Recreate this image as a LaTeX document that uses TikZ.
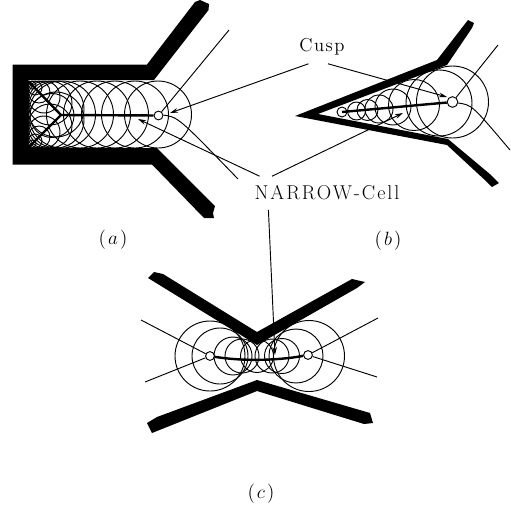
\documentclass[tikz,border=0pt]{standalone}
\usepackage{fontspec}
\usepackage{amsmath}
\usetikzlibrary{arrows.meta,positioning,calc}
\newfontfamily\cuspfont[LetterSpace=8]{Latin Modern Roman}
\newfontfamily\cellfont[LetterSpace=10]{Latin Modern Roman}

\begin{document}
\begin{tikzpicture}[
  x=0.75pt, y=-0.75pt,
  wall/.style={fill=black, draw=none},
  disk/.style={draw, line width=0.7pt},
  axis/.style={line width=1.8pt},
  endpt/.style={draw, circle, fill=white, inner sep=0pt, minimum size=6.6pt, line width=0.7pt},
  leader/.style={line width=0.7pt},
  arr/.style={-{Stealth[length=6pt,width=3.5pt]}, line width=0.7pt},
  callout/.style={inner sep=0pt, minimum height=24.8pt},
  caption/.style={font=\fontsize{14}{16}\selectfont, inner sep=0pt}
]
  \useasboundingbox (0,0) rectangle (511,512);

  % (a)
  \foreach \cx in {158,135,115,97,80,62}
    \draw[disk] (\cx,114.5) circle (33.5);
  \draw[disk] (52,115.5) circle (22);
  \foreach \rr in {28,22,16,11,7,4} {
    \draw[disk] (28+\rr,81+\rr) circle (\rr);
    \draw[disk] (28+\rr,148-\rr) circle (\rr);
  }
  \fill[wall] (195,2) -- (200,0) -- (209,4) -- (208.5,10) -- (154,80) -- (28,80) -- (28,148) -- (157,148)
    -- (215,206) -- (213,213) -- (214,218) -- (204,218) -- (152,164.5) -- (12.5,164.5) -- (12.5,64.5) -- (147,64.5) -- cycle;
  \coordinate (forka) at (61,115);
  \draw[axis] (28,81) -- (forka) -- (28,148);
  \node[endpt] (capa) at (158.5,115.5) {};
  \draw[axis] (forka) -- (capa);
  \coordinate (upa) at (229,30);
  \coordinate (downa) at (238,179);
  \draw[leader] (capa) -- (upa);
  \draw[leader] (capa.5) .. controls (178,117) .. (downa);

  % (b)
  \foreach \cx/\cy/\rr in {452.5/102/36,439/103/33,414/105/25.5,393/107/18,379/109/14,367.5/110/10.5,356.5/111/9}
    \draw[disk] (\cx,\cy) circle (\rr);
  \fill[wall] (295,116) -- (437,60) -- (468,20) -- (474,23) -- (472,28) -- (447,65) -- (318,114) -- (448,139)
    -- (491,175) -- (499,183) -- (492,187) -- (487,182) -- (447,145) -- cycle;
  \node[endpt, minimum size=7.5pt] (tipb) at (342,112) {};
  \node[endpt, minimum size=8pt] (capb) at (452.5,102) {};
  \draw[axis] (tipb.center) -- (capb);
  \coordinate (upb) at (498,45);
  \coordinate (downb) at (510,150);
  \draw[leader] (capb) -- (upb);
  \draw[leader] (capb.-10) .. controls (472,105) .. (downb);

  % (c)
  \foreach \cx/\rr in {210/35,220/28,233/19,242/17,257/16.5,272/17,282/17.5,296/27,309/35.5}
    \draw[disk] (\cx,356) circle (\rr);
  \fill[wall] (148,278) -- (154,272) -- (163,274) -- (257,332) -- (352,279) -- (365,282) -- (357,288) -- (257,345) -- cycle;
  \fill[wall] (257,380) -- (370,413) -- (373,423) -- (364,424) -- (257,391) -- (152,433) -- (147,423) -- (157,417) -- cycle;
  \node[endpt] (capcl) at (210,356) {};
  \node[endpt] (capcr) at (308,355) {};
  \draw[axis] (capcl) .. controls (240,361) and (275,361) .. (capcr);
  \coordinate (upcl) at (141,320);
  \coordinate (downcl) at (145,382);
  \coordinate (upcr) at (378,318);
  \coordinate (downcr) at (377,377);
  \draw[leader] (capcl) -- (upcl);
  \draw[leader] (capcl) -- (downcl);
  \draw[leader] (capcr) -- (upcr);
  \draw[leader] (capcr) -- (downcr);

  % labels
  \node[callout, font=\cuspfont\fontsize{14}{16}\selectfont] (cusp) at (322,47) {Cusp};
  \node[callout, font=\cellfont\fontsize{15}{17}\selectfont, minimum width=106pt] (narrow) at (327,193) {NARROW-Cell};
  \node[caption] (capta) at (113,240) {$(\mspace{2mu}a\mspace{2mu})$};
  \node[caption] (captb) at (388,241) {$(\mspace{2mu}b\mspace{2mu})$};
  \node[caption] (captc) at (261,494) {$(\mspace{2mu}c\mspace{2mu})$};

  \coordinate (cusptipa) at (170,113);
  \coordinate (cusptipb) at (447,97);
  \coordinate (celltipa) at (138,119);
  \coordinate (celltipb) at (403,113);
  \coordinate (celltipc) at (275,355);
  \draw[arr] (cusp.231) -- (cusptipa);
  \draw[arr] (cusp.-70) -- (cusptipb);
  \draw[arr] (narrow.166.7) -- (celltipa);
  \draw[arr] (narrow.163.3) -- (celltipb);
  \draw[arr] (narrow.196.7) -- (celltipc);
\end{tikzpicture}
\end{document}
